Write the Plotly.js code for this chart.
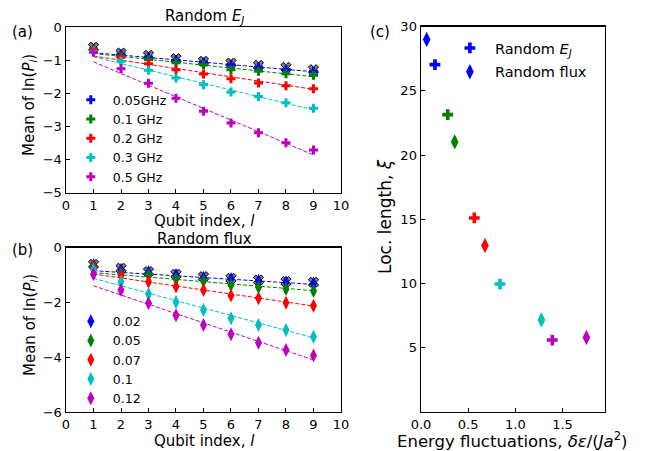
<!DOCTYPE html>
<html><head><meta charset="utf-8">
<script src="https://cdn.plot.ly/plotly-3.0.1.min.js"></script>
<style>body{margin:0;background:#fff}#chart{width:649px;height:451px}</style>
</head><body><div id="chart"></div>
<script>
// ---------- data ----------
const qubitIndex = [1, 2, 3, 4, 5, 6, 7, 8, 9];
const fitRange = [1, 9];

// (a) Random E_J
const ejLabels = ['0.05GHz', '0.1 GHz', '0.2 GHz', '0.3 GHz', '0.5 GHz'];
const ejClean = [-0.61, -0.785, -0.856, -0.956, -1.036, -1.087, -1.157, -1.217, -1.288];
const ej005 = [-0.66, -0.815, -0.905, -1.006, -1.057, -1.137, -1.217, -1.288, -1.338];
const ej01  = [-0.68, -0.885, -0.985, -1.077, -1.137, -1.288, -1.338, -1.41, -1.459];
const ej02  = [-0.70, -0.915, -1.107, -1.288, -1.42, -1.56, -1.69, -1.77, -1.86];
const ej03  = [-0.74, -1.035, -1.308, -1.54, -1.74, -1.96, -2.10, -2.285, -2.455];
const ej05  = [-0.76, -1.26, -1.70, -2.15, -2.545, -2.895, -3.19, -3.49, -3.71];
const ejFitStart = [-0.775, -0.80, -0.875, -0.90, -1.05];
const ejFitEnd   = [-1.35, -1.50, -1.88, -2.50, -3.86];

// (b) Random flux
const fluxLabels = ['0.02', '0.05', '0.07', '0.1', '0.12'];
const fluxClean = [-0.61, -0.75, -0.876, -0.97, -1.06, -1.12, -1.18, -1.24, -1.265];
const flux002 = [-0.64, -0.81, -0.90, -1.0, -1.095, -1.143, -1.216, -1.265, -1.31];
const flux005 = [-0.68, -0.935, -1.0, -1.14, -1.216, -1.36, -1.447, -1.51, -1.58];
const flux007 = [-0.72, -1.02, -1.24, -1.42, -1.545, -1.75, -1.85, -2.01, -2.12];
const flux01  = [-0.81, -1.24, -1.69, -1.98, -2.275, -2.58, -2.82, -3.01, -3.25];
const flux012 = [-0.97, -1.545, -2.03, -2.47, -2.82, -3.16, -3.47, -3.74, -3.94];
const fluxFitStart = [-0.84, -0.91, -0.96, -1.12, -1.39];
const fluxFitEnd   = [-1.34, -1.57, -2.13, -3.29, -4.10];

// (c) localization length vs energy fluctuations
const ejFluct   = [0.148, 0.283, 0.565, 0.837, 1.392];
const ejXi      = [27.05, 23.15, 15.11, 9.96, 5.6];
const fluxFluct = [0.06, 0.357, 0.678, 1.276, 1.753];
const fluxXi    = [29.0, 21.03, 12.96, 7.17, 5.8];

const seriesColors = ['#0000ff', '#008000', '#ff0000', '#00bfbf', '#bf00bf'];

// ---------- traces ----------
const traces = [];
function panel(xa, ya, legendId, clean, sets, labels, fitS, fitE, symbol, size) {
  traces.push({x: qubitIndex, y: clean, xaxis: xa, yaxis: ya, mode: 'markers', showlegend: false,
    marker: {symbol: 'x', size: 9, color: '#7f7f7f', line: {color: '#000', width: 1}}});
  sets.forEach((s, i) => {
    traces.push({x: fitRange, y: [fitS[i], fitE[i]], xaxis: xa, yaxis: ya, mode: 'lines', showlegend: false,
      line: {color: seriesColors[i], width: 1, dash: '4px,2px'}});
  });
  sets.forEach((s, i) => {
    traces.push({x: qubitIndex, y: s, xaxis: xa, yaxis: ya, mode: 'markers', name: labels[i],
      legend: legendId, marker: {symbol: symbol, size: size, color: seriesColors[i], line: {width: 0}}});
  });
}
panel('x', 'y', 'legend', ejClean, [ej005, ej01, ej02, ej03, ej05], ejLabels, ejFitStart, ejFitEnd, 'cross', 7.5);
panel('x2', 'y2', 'legend2', fluxClean, [flux002, flux005, flux007, flux01, flux012], fluxLabels, fluxFitStart, fluxFitEnd, 'diamond-tall', 10);

traces.push({x: ejFluct, y: ejXi, xaxis: 'x3', yaxis: 'y3', mode: 'markers', name: 'Random <i>E</i><sub><i>J</i></sub>',
  legend: 'legend3', legendgroup: 'g1', marker: {symbol: 'cross', size: 9, color: seriesColors, line: {width: 0}}});
traces.push({x: fluxFluct, y: fluxXi, xaxis: 'x3', yaxis: 'y3', mode: 'markers', name: 'Random flux',
  legend: 'legend3', legendgroup: 'g2', marker: {symbol: 'diamond-tall', size: 11, color: seriesColors, line: {width: 0}}});

// ---------- layout ----------
const F = 'DejaVu Sans, sans-serif';
function ax(extra) {
  return Object.assign({showline: true, mirror: true, linecolor: '#000', linewidth: 1.5, ticks: 'inside',
    ticklen: 4, tickcolor: '#000', showgrid: false, zeroline: false, tickfont: {family: F, size: 13, color: '#000'},
    fixedrange: true}, extra);
}
const leg = (x, y, size, gap, iw) => ({x: x, y: y, xanchor: 'left', yanchor: 'top', bgcolor: 'rgba(0,0,0,0)',
  font: {family: F, size: size, color: '#000'}, tracegroupgap: gap, itemwidth: iw, itemclick: false});

const texts = [
  {text: 'Random <i>E</i><sub><i>J</i></sub>', x: 204, y: 16, size: 15, angle: 0},
  {text: 'Random flux', x: 204, y: 239, size: 15, angle: 0},
  {text: '(a)', x: 22, y: 32, size: 15, angle: 0},
  {text: '(b)', x: 22, y: 250, size: 15, angle: 0},
  {text: '(c)', x: 380, y: 32, size: 15, angle: 0},
  {text: 'Qubit index, <i>l</i>', x: 204, y: 221, size: 15, angle: 0},
  {text: 'Qubit index, <i>l</i>', x: 204, y: 441, size: 15, angle: 0},
  {text: 'Mean of ln(<i>P</i><sub><i>l</i></sub>)', x: 30, y: 105, size: 15, angle: -90},
  {text: 'Mean of ln(<i>P</i><sub><i>l</i></sub>)', x: 30, y: 325, size: 15, angle: -90},
  {text: 'Energy fluctuations, <i>δε</i>/(<i>Ja</i><sup>2</sup>)', x: 512, y: 440, size: 16.5, angle: 0},
  {text: 'Loc. length, <i>ξ</i>', x: 385, y: 217, size: 17, angle: -90}
];

const layout = {
  width: 649, height: 451, margin: {l: 0, r: 0, t: 0, b: 0},
  paper_bgcolor: '#fff', plot_bgcolor: '#fff',
  font: {family: F, color: '#000'},
  xaxis: ax({domain: [0.1017, 0.5254], range: [0, 10], dtick: 1, anchor: 'y'}),
  yaxis: ax({domain: [0.5727, 0.9401], range: [-5, 0], dtick: 1, anchor: 'x'}),
  xaxis2: ax({domain: [0.1017, 0.5254], range: [0, 10], dtick: 1, anchor: 'y2'}),
  yaxis2: ax({domain: [0.0865, 0.4508], range: [-6, 0], dtick: 2, anchor: 'x2'}),
  xaxis3: ax({domain: [0.6487, 0.9322], range: [0, 1.95], tickvals: [0, 0.5, 1.0, 1.5], tickformat: '.1f', anchor: 'y3'}),
  yaxis3: ax({domain: [0.0865, 0.9408], range: [0, 30], tickvals: [5, 10, 15, 20, 25, 30], anchor: 'x3'}),
  legend: leg(0.106, 0.8115, 12.5, 0, 34),
  legend2: leg(0.106, 0.32, 12.5, 0, 34),
  legend3: leg(0.6855, 0.929, 14.5, 2, 40),
  annotations: texts.map(a => ({text: a.text, x: a.x / 649, y: 1 - a.y / 451, xref: 'paper', yref: 'paper',
    xanchor: 'center', yanchor: 'middle', showarrow: false, textangle: a.angle,
    font: {family: F, size: a.size, color: '#000'}}))
};

Plotly.newPlot('chart', traces, layout, {staticPlot: true, displayModeBar: false});
</script>
</body></html>
